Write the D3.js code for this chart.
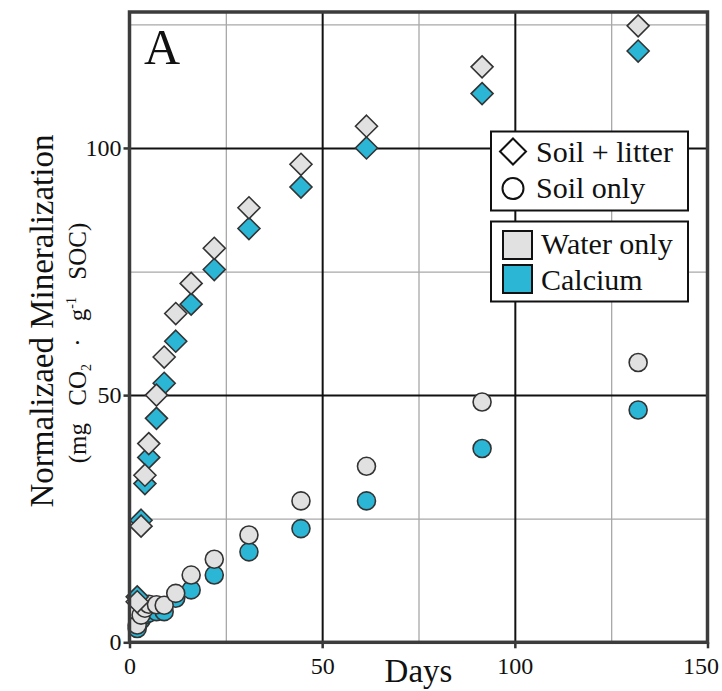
<!DOCTYPE html>
<html>
<head>
<meta charset="utf-8">
<script src="https://cdn.jsdelivr.net/npm/d3@7"></script>
<style>
  body { margin: 0; background: #fff; }
  svg text { fill: #111; }
  .grid-major line { stroke: #111; stroke-width: 2; }
  .grid-minor line { stroke: #a8a8a8; stroke-width: 1.3; }
  .grid-major path, .grid-minor path, .axis path { display: none; }
  .axis line { stroke: #333; stroke-width: 2.5; }
</style>
</head>
<body>
<div class="chart"></div>
<script>
// sampling days and cumulative mineralization (mg CO2 / g SOC)
const days = [2, 3, 4, 5, 7, 9, 12, 16, 22, 31, 44.5, 61.5, 91.5, 132];
const litterWater = [8.2, 23.5, 33.8, 40.2, 50.0, 57.7, 66.5, 72.6, 79.7, 87.9, 96.7, 104.4, 116.4, 124.7];
const litterCalcium = [9.2, 24.7, 32.1, 37.4, 45.3, 52.4, 60.9, 68.4, 75.4, 83.7, 92.1, 100.0, 111.0, 119.6];
const soilWater = [3.5, 5.5, 6.9, 7.7, 7.6, 7.5, 9.9, 13.6, 16.8, 21.7, 28.6, 35.6, 48.6, 56.6];
const soilCalcium = [2.8, 4.5, 5.5, 5.9, 6.2, 6.2, 8.9, 10.6, 13.6, 18.3, 23.0, 28.6, 39.2, 47.0];

const xTicks = [0, 50, 100, 150];
const yTicks = [0, 50, 100];
const majorX = [50, 100];
const minorX = [25, 75, 125];
const majorY = [50, 100];
const minorY = [25, 75, 125];

const colors = { water: '#e1e1e1', calcium: '#2bb6d6' };
const stroke = '#333';
const serif = '"Liberation Serif", "Times New Roman", serif';

const W = 722, H = 691;
const plotL = 129.5, plotR = 707.5, plotT = 12, plotB = 642.3;

const x = d3.scaleLinear().domain([0, 150]).range([plotL, plotR]);
const y = d3.scaleLinear().domain([0, 127.5]).range([plotB, plotT]);

const svg = d3.select('.chart')
  .append('svg')
  .attr('width', W)
  .attr('height', H)
  .attr('font-family', serif);

// grid
svg.append('g')
  .attr('class', 'grid-minor')
  .attr('transform', 'translate(0,' + plotB + ')')
  .call(d3.axisBottom(x).tickValues(minorX).tickSize(-(plotB - plotT)).tickFormat(''));
svg.append('g')
  .attr('class', 'grid-minor')
  .attr('transform', 'translate(' + plotL + ',0)')
  .call(d3.axisLeft(y).tickValues(minorY).tickSize(-(plotR - plotL)).tickFormat(''));
svg.append('g')
  .attr('class', 'grid-major')
  .attr('transform', 'translate(0,' + plotB + ')')
  .call(d3.axisBottom(x).tickValues(majorX).tickSize(-(plotB - plotT)).tickFormat(''));
svg.append('g')
  .attr('class', 'grid-major')
  .attr('transform', 'translate(' + plotL + ',0)')
  .call(d3.axisLeft(y).tickValues(majorY).tickSize(-(plotR - plotL)).tickFormat(''));

// axes
const xAxis = svg.append('g')
  .attr('class', 'axis')
  .attr('transform', 'translate(0,' + plotB + ')')
  .call(d3.axisBottom(x).tickValues(xTicks).tickSize(6).tickPadding(9))
  .attr('font-family', serif)
  .attr('font-size', 24);
xAxis.selectAll('text')
  .attr('dy', '0.71em')
  .filter(d => d === 150)
  .attr('dx', '-7');

svg.append('g')
  .attr('class', 'axis')
  .attr('transform', 'translate(' + plotL + ',0)')
  .call(d3.axisLeft(y).tickValues(yTicks).tickSize(6).tickPadding(2))
  .attr('font-family', serif)
  .attr('font-size', 24);

// points
function diamond(r) {
  return `M0,${-r}L${r},0L0,${r}L${-r},0Z`;
}

function drawCircles(values, fill) {
  svg.append('g')
    .selectAll('circle')
    .data(days.map((d, i) => ({ day: d, value: values[i] })))
    .enter()
    .append('circle')
    .attr('cx', d => x(d.day))
    .attr('cy', d => y(d.value))
    .attr('r', 9)
    .attr('fill', fill)
    .attr('stroke', stroke)
    .attr('stroke-width', 1.6);
}

function drawDiamonds(values, fill) {
  svg.append('g')
    .selectAll('path')
    .data(days.map((d, i) => ({ day: d, value: values[i] })))
    .enter()
    .append('path')
    .attr('d', diamond(11))
    .attr('transform', d => 'translate(' + x(d.day) + ',' + y(d.value) + ')')
    .attr('fill', fill)
    .attr('stroke', stroke)
    .attr('stroke-width', 1.6);
}

drawCircles(soilCalcium, colors.calcium);
drawCircles(soilWater, colors.water);
drawDiamonds(litterCalcium, colors.calcium);
drawDiamonds(litterWater, colors.water);

// frame
svg.append('rect')
  .attr('x', plotL)
  .attr('y', plotT)
  .attr('width', plotR - plotL)
  .attr('height', plotB - plotT)
  .attr('fill', 'none')
  .attr('stroke', '#3c3c3c')
  .attr('stroke-width', 3.5);

// panel letter
svg.append('text')
  .attr('x', 144)
  .attr('y', 64)
  .attr('font-size', 50)
  .text('A');

// axis titles
svg.append('text')
  .attr('x', 418.5)
  .attr('y', 682)
  .attr('text-anchor', 'middle')
  .attr('font-size', 33)
  .text('Days');

svg.append('text')
  .attr('transform', 'translate(53,321) rotate(-90)')
  .attr('text-anchor', 'middle')
  .attr('font-size', 33)
  .text('Normalizaed Mineralization');

const unit = svg.append('text')
  .attr('transform', 'translate(86,343) rotate(-90)')
  .attr('text-anchor', 'middle')
  .attr('font-size', 25)
  .attr('word-spacing', 11);
unit.append('tspan').text('(mg CO');
unit.append('tspan').attr('font-size', 14).attr('dy', 5).text('2');
unit.append('tspan').attr('dy', -5).text(' \u00b7 g');
unit.append('tspan').attr('font-size', 14).attr('dy', -10).text('-1');
unit.append('tspan').attr('dy', 10).text(' SOC)');

// legends
const legend = svg.append('g');
legend.append('rect')
  .attr('x', 491).attr('y', 131.5).attr('width', 197).attr('height', 79)
  .attr('fill', '#fff').attr('stroke', '#111').attr('stroke-width', 2);
legend.append('path')
  .attr('d', diamond(13))
  .attr('transform', 'translate(513,151.5)')
  .attr('fill', '#fff').attr('stroke', '#111').attr('stroke-width', 2);
legend.append('circle')
  .attr('cx', 513).attr('cy', 188.5).attr('r', 10.5)
  .attr('fill', '#fff').attr('stroke', '#111').attr('stroke-width', 2);
legend.append('text').attr('x', 536).attr('y', 162).attr('font-size', 30).text('Soil + litter');
legend.append('text').attr('x', 536).attr('y', 198).attr('font-size', 30).text('Soil only');

legend.append('rect')
  .attr('x', 491).attr('y', 221.5).attr('width', 197).attr('height', 80)
  .attr('fill', '#fff').attr('stroke', '#111').attr('stroke-width', 2);
legend.append('rect')
  .attr('x', 503).attr('y', 231).attr('width', 29).attr('height', 28)
  .attr('fill', colors.water).attr('stroke', '#111').attr('stroke-width', 2);
legend.append('rect')
  .attr('x', 503).attr('y', 265).attr('width', 29).attr('height', 28)
  .attr('fill', colors.calcium).attr('stroke', '#111').attr('stroke-width', 2);
legend.append('text').attr('x', 541).attr('y', 254).attr('font-size', 30).text('Water only');
legend.append('text').attr('x', 541).attr('y', 290).attr('font-size', 30).text('Calcium');
</script>
</body>
</html>
